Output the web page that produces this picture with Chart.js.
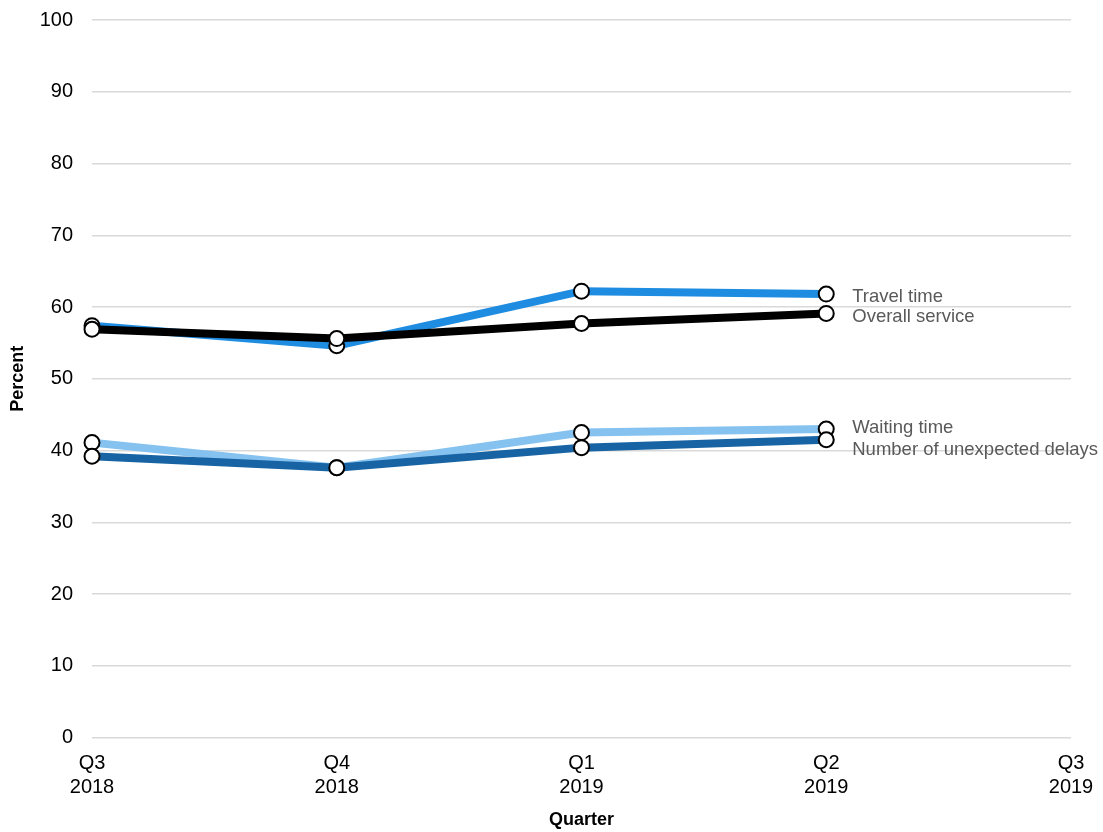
<!DOCTYPE html>
<html>
<head>
<meta charset="utf-8">
<script src="https://cdn.jsdelivr.net/npm/chart.js@4/dist/chart.umd.min.js"></script>
<style>
  html, body { margin: 0; padding: 0; background: #ffffff; }
  #wrap { width: 1103px; height: 832px; position: relative; }
</style>
</head>
<body>
<div id="wrap"><canvas id="chart" width="1103" height="832"></canvas></div>
<script>
// Survey quarters (two-line tick labels)
const quarters = [["Q3", "2018"], ["Q4", "2018"], ["Q1", "2019"], ["Q2", "2019"], ["Q3", "2019"]];

// Percent satisfied, by quarter
const travelTime = [57.4, 54.6, 62.2, 61.8, null];
const overallService = [56.9, 55.6, 57.7, 59.1, null];
const waitingTime = [41.1, 37.6, 42.5, 43.0, null];
const unexpectedDelays = [39.2, 37.6, 40.4, 41.5, null];

// Series names shown at the end of each line
const seriesNames = ["Overall service", "Travel time", "Number of unexpected delays", "Waiting time"];

// y-axis ticks
const yMin = 0, yMax = 100, yStep = 10;

const FONT = "'Liberation Sans', Arial, Helvetica, sans-serif";

// Vertical nudge (px) of each end label so that close labels don't collide
const labelNudge = [8.4, 7.7, 15, 4.3];

const endLabels = {
  id: 'endLabels',
  afterDatasetsDraw(chart) {
    const ctx = chart.ctx;
    ctx.save();
    ctx.font = "18.5px " + FONT;
    ctx.fillStyle = "#595959";
    ctx.textAlign = "left";
    ctx.textBaseline = "alphabetic";
    chart.data.datasets.forEach((ds, i) => {
      const meta = chart.getDatasetMeta(i);
      let last = -1;
      ds.data.forEach((v, j) => { if (v !== null) last = j; });
      if (last < 0) return;
      const pt = meta.data[last];
      ctx.fillText(ds.label, pt.x + 26, pt.y + labelNudge[i]);
    });
    ctx.restore();
  }
};

function lineSet(label, data, color) {
  return {
    label: label,
    data: data,
    borderColor: color,
    backgroundColor: color,
    borderWidth: 8,
    pointRadius: 7.5,
    pointBorderWidth: 2,
    pointBorderColor: "#000000",
    pointBackgroundColor: "#ffffff",
    pointHoverRadius: 7.5,
    tension: 0,
    spanGaps: false,
    clip: false
  };
}

new Chart(document.getElementById("chart"), {
  type: "line",
  data: {
    labels: quarters,
    datasets: [
      lineSet(seriesNames[0], overallService, "#000000"),
      lineSet(seriesNames[1], travelTime, "#1e8ce0"),
      lineSet(seriesNames[2], unexpectedDelays, "#1763a3"),
      lineSet(seriesNames[3], waitingTime, "#85c2f0")
    ]
  },
  options: {
    responsive: false,
    animation: false,
    devicePixelRatio: 1,
    layout: { padding: { top: 20, right: 32, left: 0, bottom: 0 } },
    plugins: {
      legend: { display: false },
      tooltip: { enabled: false }
    },
    scales: {
      x: {
        offset: false,
        grid: { display: false, drawTicks: false },
        border: { display: false },
        ticks: {
          color: "#000000",
          font: { family: FONT, size: 20, lineHeight: 1.2 },
          padding: 14,
          maxRotation: 0,
          autoSkip: false
        },
        title: {
          display: true,
          text: "Quarter",
          color: "#000000",
          font: { family: FONT, size: 18, weight: "bold" },
          padding: { top: 0, bottom: 1 }
        },
        afterFit(scale) {
          scale.height = 94.5;
          scale.paddingLeft = 0;
          scale.paddingRight = 0;
        }
      },
      y: {
        min: yMin,
        max: yMax,
        grid: { color: "#d9d9d9", lineWidth: 1.5, drawTicks: false },
        border: { display: false },
        ticks: {
          stepSize: yStep,
          color: "#000000",
          font: { family: FONT, size: 20 },
          padding: 19
        },
        title: {
          display: true,
          text: "Percent",
          color: "#000000",
          font: { family: FONT, size: 18, weight: "bold" },
          padding: { top: 7, bottom: 0 }
        },
        afterFit(scale) {
          scale.width = 92;
          scale.paddingTop = 0;
          scale.paddingBottom = 0;
        }
      }
    }
  },
  plugins: [endLabels]
});
</script>
</body>
</html>
